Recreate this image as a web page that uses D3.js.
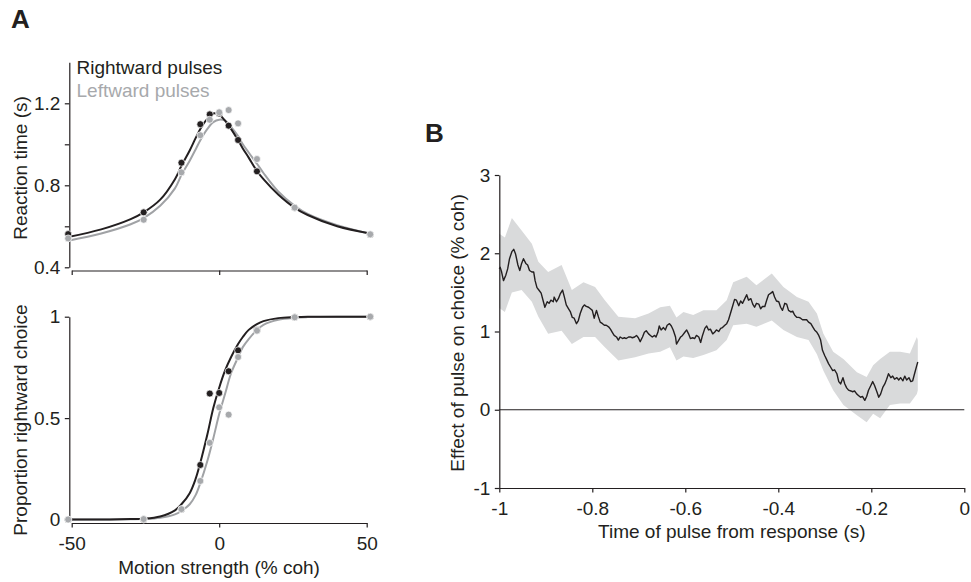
<!DOCTYPE html>
<html>
<head>
<meta charset="utf-8">
<script src="https://cdn.jsdelivr.net/npm/d3@7"></script>
<style>
  body { margin: 0; background: #fff; }
  svg { font-family: "Liberation Sans", Arial, sans-serif; }
  .axis path, .axis line { stroke: #231f20; stroke-width: 1.2; }
  .axis text { fill: #231f20; font-size: 19px; font-family: "Liberation Sans", Arial, sans-serif; }
  .label { fill: #231f20; font-size: 19px; }
</style>
</head>
<body>
<svg id="viz" width="971" height="582"></svg>
<script>
// ---- Panel A data ----
// motion strengths tested (% coh)
const coherences = [-51.2, -25.6, -12.8, -6.4, -3.2, 0, 3.2, 6.4, 12.8, 25.6, 51.2];

// mean reaction times (s)
const rtRight = [0.562, 0.668, 0.910, 1.098, 1.146, 1.150, 1.091, 1.021, 0.868, 0.690, 0.560];
const rtLeft  = [0.541, 0.632, 0.863, 1.044, 1.120, 1.156, 1.167, 1.102, 0.928, 0.691, 0.561];

// proportion rightward choices
const pRight = [0.0, 0.0, 0.05, 0.269, 0.621, 0.624, 0.731, 0.834, 0.935, 0.997, 1.0];
const pLeft  = [0.0, 0.002, 0.051, 0.19, 0.378, 0.553, 0.517, 0.801, 0.931, 0.997, 1.0];

// fitted curves
const fitX = [-51.2, -40, -30, -25.6, -20, -15, -12.8, -10, -8, -6.4, -4, -2, 0,
              2, 4, 6.4, 8, 10, 12.8, 15, 20, 25.6, 30, 40, 51.2];
const rtFitRight = [0.548, 0.585, 0.635, 0.668, 0.73, 0.83, 0.895, 0.97, 1.03, 1.075, 1.125, 1.15, 1.145,
                    1.115, 1.075, 1.02, 0.98, 0.935, 0.87, 0.83, 0.755, 0.69, 0.655, 0.6, 0.565];
const rtFitLeft  = [0.53, 0.565, 0.61, 0.64, 0.70, 0.785, 0.85, 0.92, 0.975, 1.02, 1.075, 1.108, 1.12,
                    1.115, 1.085, 1.04, 1.0, 0.96, 0.905, 0.86, 0.77, 0.70, 0.66, 0.605, 0.563];
const pFitRight  = [0, 0, 0.002, 0.004, 0.015, 0.045, 0.075, 0.13, 0.2, 0.28, 0.42, 0.55, 0.65,
                    0.735, 0.8, 0.865, 0.9, 0.935, 0.963, 0.978, 0.993, 0.998, 1, 1, 1];
const pFitLeft   = [0, 0, 0.001, 0.002, 0.008, 0.025, 0.042, 0.075, 0.12, 0.18, 0.29, 0.40, 0.52,
                    0.62, 0.72, 0.80, 0.85, 0.89, 0.935, 0.96, 0.985, 0.995, 0.998, 1, 1];

const rtTicks = [0.4, 0.6, 0.8, 1.0, 1.2];
const rtTickLabels = [0.4, 0.8, 1.2];
const pTicks = [0, 0.5, 1];
const cohTicks = [-50, 0, 50];

// ---- Panel B data ----
const pulseTime = [
  -1.000, -0.998, -0.995, -0.991, -0.986, -0.982, -0.978, -0.973, -0.969, -0.965,
  -0.960, -0.956, -0.952, -0.948, -0.943, -0.939, -0.935, -0.930, -0.926, -0.923,
  -0.919, -0.915, -0.910, -0.906, -0.902, -0.897, -0.893, -0.889, -0.884, -0.882,
  -0.877, -0.873, -0.869, -0.864, -0.860, -0.856, -0.851, -0.847, -0.843, -0.839,
  -0.834, -0.830, -0.826, -0.821, -0.817, -0.813, -0.808, -0.804, -0.800, -0.796,
  -0.791, -0.787, -0.783, -0.778, -0.774, -0.770, -0.765, -0.761, -0.757, -0.753,
  -0.748, -0.744, -0.740, -0.735, -0.731, -0.727, -0.722, -0.718, -0.714, -0.709,
  -0.705, -0.701, -0.697, -0.692, -0.688, -0.684, -0.679, -0.675, -0.671, -0.666,
  -0.663, -0.659, -0.656, -0.652, -0.647, -0.643, -0.639, -0.634, -0.630, -0.626,
  -0.621, -0.619, -0.614, -0.610, -0.606, -0.601, -0.597, -0.593, -0.589, -0.584,
  -0.580, -0.576, -0.571, -0.567, -0.563, -0.558, -0.554, -0.550, -0.546, -0.541,
  -0.537, -0.533, -0.528, -0.524, -0.520, -0.515, -0.511, -0.507, -0.502, -0.498,
  -0.494, -0.490, -0.485, -0.481, -0.477, -0.472, -0.468, -0.464, -0.459, -0.455,
  -0.451, -0.447, -0.442, -0.438, -0.434, -0.429, -0.425, -0.421, -0.416, -0.412,
  -0.408, -0.404, -0.399, -0.395, -0.391, -0.386, -0.382, -0.378, -0.373, -0.369,
  -0.365, -0.360, -0.356, -0.352, -0.348, -0.343, -0.339, -0.335, -0.330, -0.326,
  -0.322, -0.317, -0.313, -0.309, -0.305, -0.300, -0.296, -0.292, -0.287, -0.283,
  -0.279, -0.274, -0.270, -0.266, -0.261, -0.257, -0.253, -0.249, -0.244, -0.240,
  -0.236, -0.231, -0.227, -0.223, -0.219, -0.214, -0.210, -0.206, -0.201, -0.197,
  -0.193, -0.188, -0.184, -0.180, -0.175, -0.171, -0.167, -0.163, -0.158, -0.154,
  -0.150, -0.145, -0.141, -0.137, -0.132, -0.128, -0.124, -0.119, -0.115, -0.111,
  -0.107, -0.102, -0.100];
const pulseEffect = [
  1.80, 1.82, 1.76, 1.65, 1.72, 1.80, 1.93, 2.02, 2.05, 1.99,
  1.85, 1.78, 1.87, 1.93, 1.87, 1.85, 1.78, 1.76, 1.76, 1.65,
  1.56, 1.53, 1.49, 1.40, 1.31, 1.38, 1.36, 1.40, 1.38, 1.44,
  1.38, 1.42, 1.48, 1.53, 1.44, 1.34, 1.29, 1.25, 1.18, 1.17,
  1.10, 1.14, 1.23, 1.31, 1.34, 1.32, 1.31, 1.29, 1.27, 1.17,
  1.27, 1.19, 1.12, 1.10, 1.08, 1.08, 1.06, 1.03, 0.99, 0.95,
  0.93, 0.89, 0.93, 0.91, 0.92, 0.91, 0.93, 0.93, 0.92, 0.93,
  0.95, 0.92, 0.87, 0.93, 0.99, 1.01, 0.97, 0.95, 0.93, 0.95,
  0.93, 0.99, 1.07, 1.02, 1.05, 1.02, 1.08, 1.10, 1.07, 1.02,
  0.93, 0.84, 0.89, 0.93, 0.95, 0.99, 1.02, 0.97, 0.91, 0.92,
  0.91, 0.95, 0.93, 0.86, 0.95, 1.04, 1.07, 1.02, 1.03, 0.97,
  0.99, 1.02, 1.00, 1.04, 1.05, 1.08, 1.10, 1.15, 1.25, 1.33,
  1.41, 1.40, 1.33, 1.39, 1.36, 1.42, 1.47, 1.40, 1.42, 1.35,
  1.31, 1.36, 1.35, 1.29, 1.32, 1.32, 1.40, 1.47, 1.49, 1.51,
  1.44, 1.39, 1.38, 1.31, 1.27, 1.36, 1.35, 1.27, 1.25, 1.26,
  1.21, 1.18, 1.18, 1.17, 1.15, 1.15, 1.15, 1.12, 1.10, 1.06,
  1.02, 0.99, 0.95, 0.89, 0.76, 0.69, 0.64, 0.59, 0.54, 0.50,
  0.51, 0.46, 0.36, 0.33, 0.41, 0.33, 0.28, 0.25, 0.24, 0.23,
  0.24, 0.20, 0.18, 0.16, 0.17, 0.12, 0.17, 0.25, 0.31, 0.36,
  0.31, 0.23, 0.16, 0.20, 0.29, 0.33, 0.39, 0.46, 0.41, 0.43,
  0.39, 0.41, 0.38, 0.41, 0.37, 0.43, 0.38, 0.41, 0.36, 0.37,
  0.46, 0.57, 0.61];

// shaded error band
const bandTime  = [-1.0, -0.988, -0.973, -0.952, -0.930, -0.916, -0.895, -0.866, -0.844, -0.819,
                   -0.794, -0.773, -0.744, -0.708, -0.679, -0.654, -0.633, -0.619, -0.604, -0.583,
                   -0.561, -0.533, -0.511, -0.497, -0.468, -0.447, -0.414, -0.389, -0.360, -0.335,
                   -0.317, -0.303, -0.282, -0.260, -0.231, -0.210, -0.196, -0.181, -0.160, -0.138,
                   -0.117, -0.102, -0.100];
const bandUpper = [2.25, 2.20, 2.45, 2.29, 2.12, 1.89, 1.76, 1.85, 1.53, 1.63,
                   1.57, 1.40, 1.19, 1.17, 1.23, 1.31, 1.33, 1.18, 1.25, 1.21,
                   1.27, 1.27, 1.40, 1.63, 1.70, 1.59, 1.74, 1.57, 1.44, 1.38,
                   1.23, 0.97, 0.74, 0.65, 0.48, 0.42, 0.57, 0.65, 0.74, 0.74,
                   0.72, 0.93, 0.89];
const bandLower = [1.30, 1.25, 1.50, 1.53, 1.38, 1.19, 0.97, 1.01, 0.84, 0.93,
                   0.93, 0.80, 0.63, 0.67, 0.72, 0.74, 0.80, 0.63, 0.68, 0.66,
                   0.70, 0.76, 0.89, 1.08, 1.10, 1.06, 1.14, 1.02, 0.93, 0.89,
                   0.71, 0.50, 0.25, 0.06, -0.07, -0.16, -0.05, -0.11, 0.06, 0.08,
                   0.08, 0.20, 0.25];

const timeTicks = [-1, -0.8, -0.6, -0.4, -0.2, 0];
const effectTicks = [-1, 0, 1, 2, 3];

// ---- drawing ----
const ink = "#231f20", grey = "#a7a9ac", greyLine = "#a0a2a5", bandFill = "#d9dadb";
const fmt = d => String(+d.toFixed(1));

const svg = d3.select("#viz");

// 1. Panel A scales
const xA = d3.scaleLinear().domain([-50, 50]).range([71.7, 366.7]);
const yRT = d3.scaleLinear().domain([0.4, 1.4]).range([267.3, 62.3]);
const yP = d3.scaleLinear().domain([0, 1]).range([519.5, 316.7]);

// 2. Panel A axes
svg.append("g").attr("class", "axis")
   .attr("transform", "translate(0,270.5)")
   .call(d3.axisBottom(xA).tickValues(cohTicks).tickSize(4.5).tickSizeOuter(0).tickFormat(""));

svg.append("g").attr("class", "axis")
   .attr("transform", "translate(69.3,0)")
   .call(d3.axisLeft(yRT).tickValues(rtTicks).tickSize(4.5).tickSizeOuter(0).tickPadding(4.5)
         .tickFormat(d => rtTickLabels.some(v => Math.abs(v - d) < 1e-9) ? fmt(d) : ""));

svg.append("g").attr("class", "axis")
   .attr("transform", "translate(0,523)")
   .call(d3.axisBottom(xA).tickValues(cohTicks).tickSize(4.5).tickSizeOuter(0).tickPadding(9).tickFormat(fmt));

svg.append("g").attr("class", "axis")
   .attr("transform", "translate(69.3,0)")
   .call(d3.axisLeft(yP).tickValues(pTicks).tickSize(4.5).tickSizeOuter(0).tickPadding(4.5).tickFormat(fmt));

// 3. Panel A fitted curves
const rtLine = d3.line().x((d, i) => xA(fitX[i])).y(d => yRT(d)).curve(d3.curveCatmullRom);
const pLine = d3.line().x((d, i) => xA(fitX[i])).y(d => yP(d)).curve(d3.curveCatmullRom);

const curves = [
  {vals: rtFitLeft, line: rtLine, color: greyLine},
  {vals: rtFitRight, line: rtLine, color: ink},
  {vals: pFitLeft, line: pLine, color: greyLine},
  {vals: pFitRight, line: pLine, color: ink}
];
svg.selectAll("path.fit")
   .data(curves)
   .enter()
   .append("path")
   .attr("class", "fit")
   .attr("d", d => d.line(d.vals))
   .attr("fill", "none")
   .attr("stroke", d => d.color)
   .attr("stroke-width", 2);

// 4. Panel A data points (black first, grey on top)
const dotSets = [
  {vals: rtRight, y: yRT, color: ink},
  {vals: pRight, y: yP, color: ink},
  {vals: rtLeft, y: yRT, color: grey},
  {vals: pLeft, y: yP, color: grey}
];
dotSets.forEach(function(set) {
  svg.append("g").selectAll("circle")
     .data(set.vals)
     .enter()
     .append("circle")
     .attr("cx", (d, i) => xA(coherences[i]))
     .attr("cy", d => set.y(d))
     .attr("r", 3.5)
     .attr("fill", set.color)
     .attr("stroke", "#fff")
     .attr("stroke-width", 0.7);
});

// legend
svg.append("text").attr("class", "label").attr("x", 76.5).attr("y", 73.5).text("Rightward pulses");
svg.append("text").attr("class", "label").attr("x", 76.5).attr("y", 96.5).style("fill", grey).text("Leftward pulses");

// axis titles A
svg.append("text").attr("class", "label").attr("text-anchor", "middle")
   .attr("transform", "translate(27,168) rotate(-90)").text("Reaction time (s)");
svg.append("text").attr("class", "label").attr("text-anchor", "middle")
   .attr("transform", "translate(27,420) rotate(-90)").text("Proportion rightward choice");
svg.append("text").attr("class", "label").attr("text-anchor", "middle")
   .attr("x", 219).attr("y", 574).text("Motion strength (% coh)");

// 5. Panel B scales
const xB = d3.scaleLinear().domain([-1, 0]).range([499.3, 964.3]);
const yB = d3.scaleLinear().domain([-1, 3]).range([488, 175]);

// error band
const bandArea = d3.area()
   .x((d, i) => xB(bandTime[i]))
   .y0((d, i) => yB(bandLower[i]))
   .y1(d => yB(d));
svg.append("path")
   .attr("d", bandArea(bandUpper))
   .attr("fill", bandFill);

// zero line
svg.append("line")
   .attr("x1", xB(-1)).attr("x2", xB(0))
   .attr("y1", yB(0)).attr("y2", yB(0))
   .attr("stroke", ink).attr("stroke-width", 1.2);

// mean trace
const traceLine = d3.line().x((d, i) => xB(pulseTime[i])).y(d => yB(d));
svg.append("path")
   .attr("d", traceLine(pulseEffect))
   .attr("fill", "none")
   .attr("stroke", ink)
   .attr("stroke-width", 1.4)
   .attr("stroke-linejoin", "round");

// 6. Panel B axes
svg.append("g").attr("class", "axis")
   .attr("transform", "translate(0,488)")
   .call(d3.axisBottom(xB).tickValues(timeTicks).tickSize(4.5).tickSizeOuter(0).tickPadding(9).tickFormat(fmt));

svg.append("g").attr("class", "axis")
   .attr("transform", "translate(499.3,0)")
   .call(d3.axisLeft(yB).tickValues(effectTicks).tickSize(4.5).tickSizeOuter(0).tickPadding(4.5).tickFormat(fmt));

svg.append("text").attr("class", "label").attr("text-anchor", "middle")
   .attr("transform", "translate(463.5,333) rotate(-90)").text("Effect of pulse on choice (% coh)");
svg.append("text").attr("class", "label").attr("text-anchor", "middle")
   .attr("x", 731.8).attr("y", 538).text("Time of pulse from response (s)");

// panel letters
svg.append("text").attr("x", 11).attr("y", 28)
   .style("font-size", "26px").style("font-weight", "bold").style("fill", ink).text("A");
svg.append("text").attr("x", 425).attr("y", 142)
   .style("font-size", "26px").style("font-weight", "bold").style("fill", ink).text("B");
</script>
</body>
</html>
